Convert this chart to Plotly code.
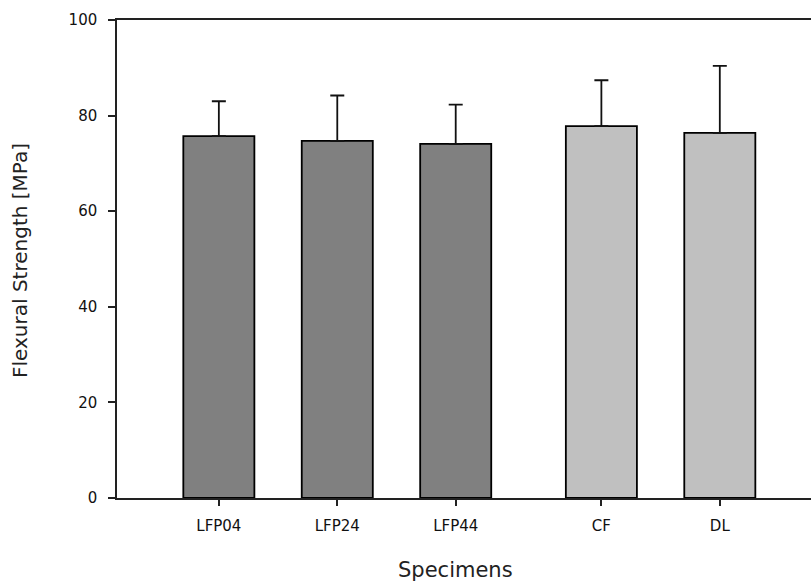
import plotly.graph_objects as go

# Data
categories = ["LFP04", "LFP24", "LFP44", "CF", "DL"]
strength = [75.7, 74.7, 74.1, 77.8, 76.4]
error_plus = [7.3, 9.5, 8.2, 9.6, 14.0]
bar_colors = ["#808080", "#808080", "#808080", "#c0c0c0", "#c0c0c0"]

# Layout positions (group gap between LFP and reference specimens)
positions = [1, 2, 3, 4.23, 5.23]

W, H = 811, 586
L, R, T, B = 117, 0, 20, 88
pw = W - L - R
ph = H - T - B

fig = go.Figure()
fig.add_trace(go.Bar(
    x=positions, y=strength, width=0.6,
    marker=dict(color=bar_colors, line=dict(color="#000000", width=1.8)),
    error_y=dict(type="data", array=error_plus, symmetric=False,
                 arrayminus=[0] * len(error_plus),
                 color="#111111", thickness=1.8, width=7),
    showlegend=False,
))

tick_font = dict(family="DejaVu Sans", size=15, color="#111111")
fig.update_layout(
    width=W, height=H,
    margin=dict(l=L, r=R, t=T, b=B, pad=0),
    paper_bgcolor="white", plot_bgcolor="white",
    xaxis=dict(range=[0.14, 6.0], tickvals=positions, ticktext=categories,
               showgrid=False, zeroline=False, showline=True, linecolor="#222222",
               linewidth=1.5, mirror=True, ticks="outside", ticklen=6,
               tickwidth=1.5, tickcolor="#222222", tickfont=tick_font,
               ticklabelstandoff=7),
    yaxis=dict(range=[0, 100], tickvals=[0, 20, 40, 60, 80, 100],
               showgrid=False, zeroline=False, showline=True, linecolor="#222222",
               linewidth=1.5, ticks="outside", ticklen=7, tickwidth=1.5,
               tickcolor="#222222", tickfont=tick_font, ticklabelstandoff=8),
    font=dict(family="DejaVu Sans", color="#000000"),
)

fig.add_annotation(text="Flexural Strength [MPa]", xref="paper", yref="paper",
                   x=(20 - L) / pw, y=(H - B - 261) / ph, xanchor="center",
                   yanchor="middle", textangle=-90, showarrow=False,
                   font=dict(family="DejaVu Sans", size=20, color="#222222"))
fig.add_annotation(text="Specimens", xref="paper", yref="paper",
                   x=(455 - L) / pw, y=(H - B - 570) / ph, xanchor="center",
                   yanchor="middle", showarrow=False,
                   font=dict(family="DejaVu Sans", size=21, color="#222222"))

fig.write_html("out.html")
